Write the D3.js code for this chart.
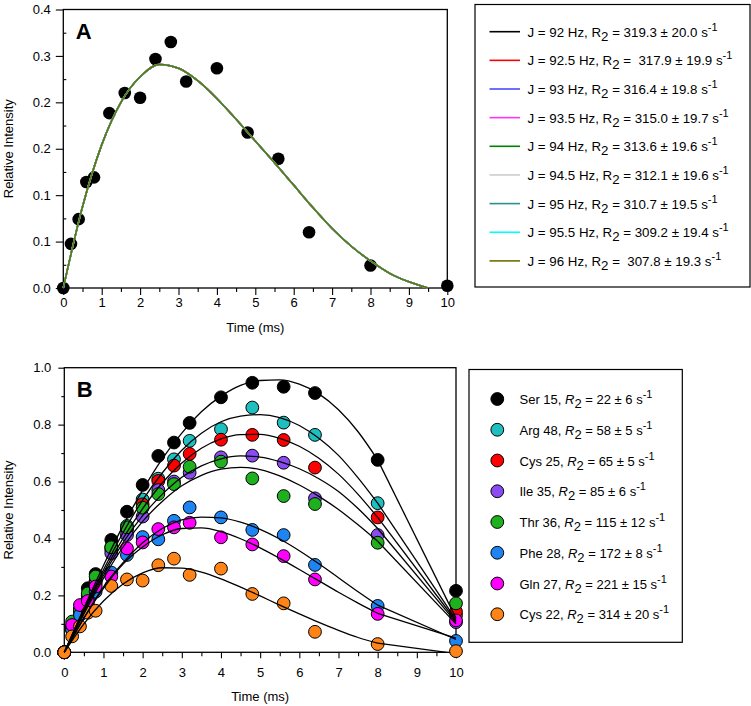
<!DOCTYPE html>
<html><head><meta charset="utf-8">
<script src="https://cdn.jsdelivr.net/npm/d3@7"></script>
<style>
body{margin:0;background:#fff}
svg text{font-family:Arial,"Liberation Sans",sans-serif;fill:#000}
</style>
</head><body>
<svg id="c" width="751" height="706"></svg>
<script>
// ---------- Panel A data ----------
const timesA = [0,0.2,0.4,0.6,0.8,1.2,1.6,2.0,2.4,2.8,3.2,4.0,4.8,5.6,6.4,8.0,10];
const intensA = [0,0.057,0.089,0.137,0.143,0.226,0.252,0.246,0.296,0.318,0.267,0.284,0.201,0.167,0.072,0.029,0.003];
const fitTimesA = [0,0.5,1,1.5,2,2.5,3,3.5,4,4.5,5,5.5,6,6.5,7,7.5,8,8.5,9,9.5];
const fitA = [0,0.105,0.185,0.240,0.273,0.289,0.284,0.268,0.245,0.218,0.190,0.162,0.133,0.104,0.077,0.054,0.035,0.019,0.008,0];
const jValues = ["92","92.5","93","93.5","94","94.5","95","95.5","96"];
const r2TextA = ["= 319.3 ± 20.0","=  317.9 ± 19.9","= 316.4 ± 19.8","= 315.0 ± 19.7","= 313.6 ± 19.6","= 312.1 ± 19.6","= 310.7 ± 19.5","= 309.2 ± 19.4","=  307.8 ± 19.3"];
const coloursA = ["#000000","#ff0000","#4b4bff","#ff33ff","#008000","#cccccc","#2e8f8f","#00ffff","#6f6f00"];
const yTicksA = [0,0.06,0.12,0.18,0.24,0.30,0.36];
const yTickLabelsA = ["0.0","0.1","0.1","0.2","0.2","0.3","0.4"];
const yMinorA = [0.03,0.09,0.15,0.21,0.27,0.33];

// ---------- Panel B data ----------
const timesB = [0,0.2,0.4,0.6,0.8,1.2,1.6,2.0,2.4,2.8,3.2,4.0,4.8,5.6,6.4,8.0,10];
const residues = ["Ser 15","Arg 48","Cys 25","Ile 35","Thr 36","Phe 28","Gln 27","Cys 22"];
const r2TextB = ["22 ± 6","58 ± 5","65 ± 5","85 ± 6","115 ± 12","172 ± 8","221 ± 15","314 ± 20"];
const coloursB = ["#000000","#1fbfbf","#ff0000","#8a4cf2","#1fb01f","#1e84f2","#ff00ff","#ff8418"];
const ser15 = [0,0.09,0.15,0.225,0.275,0.395,0.494,0.588,0.690,0.737,0.806,0.896,0.947,0.933,0.911,0.676,0.216];
const arg48 = [0,0.08,0.15,0.20,0.25,0.37,0.444,0.537,0.61,0.678,0.743,0.784,0.860,0.807,0.764,0.524,0.13];
const cys25 = [0,0.08,0.14,0.19,0.25,0.36,0.43,0.52,0.602,0.656,0.697,0.747,0.764,0.746,0.649,0.474,0.143];
const ile35 = [0,0.09,0.14,0.19,0.24,0.348,0.412,0.477,0.570,0.600,0.631,0.685,0.691,0.666,0.541,0.412,0.106];
const thr36 = [0,0.108,0.15,0.207,0.266,0.369,0.439,0.508,0.556,0.591,0.652,0.670,0.611,0.549,0.521,0.385,0.172];
const phe28 = [0,0.078,0.131,0.17,0.213,0.280,0.342,0.405,0.397,0.462,0.509,0.474,0.430,0.412,0.307,0.163,0.040];
const gln27 = [0,0.096,0.166,0.18,0.231,0.266,0.365,0.386,0.433,0.439,0.455,0.404,0.379,0.338,0.256,0.135,0.112];
const cys22 = [0,0.056,0.091,0.139,0.146,0.233,0.256,0.252,0.306,0.329,0.272,0.294,0.205,0.172,0.072,0.029,0.004];
const fitTimesB = [0,0.5,1,1.5,2,2.5,3,3.5,4,4.5,5,5.5,6,6.5,7,7.5,8];
const fitSer15 = [0,0.155,0.305,0.445,0.57,0.68,0.77,0.845,0.90,0.938,0.955,0.957,0.942,0.908,0.852,0.775,0.676];
const fitArg48 = [0,0.15,0.29,0.42,0.535,0.63,0.71,0.77,0.81,0.83,0.835,0.825,0.797,0.752,0.692,0.613,0.524];
const fitCys25 = [0,0.145,0.28,0.40,0.505,0.595,0.665,0.717,0.75,0.765,0.766,0.752,0.724,0.682,0.626,0.555,0.474];
const fitIle35 = [0,0.14,0.27,0.385,0.48,0.555,0.615,0.655,0.68,0.69,0.686,0.670,0.645,0.610,0.565,0.505,0.435];
const fitThr36 = [0,0.135,0.26,0.37,0.46,0.53,0.585,0.622,0.644,0.650,0.642,0.620,0.588,0.548,0.502,0.448,0.390];
const fitPhe28 = [0,0.12,0.23,0.315,0.385,0.435,0.465,0.475,0.472,0.457,0.432,0.398,0.357,0.311,0.262,0.213,0.166];
const fitGln27 = [0,0.12,0.225,0.31,0.37,0.413,0.435,0.437,0.424,0.399,0.367,0.330,0.291,0.251,0.211,0.173,0.137];
const fitCys22 = [0,0.10,0.18,0.24,0.279,0.297,0.296,0.282,0.258,0.229,0.198,0.166,0.135,0.105,0.077,0.052,0.032];
const fitEndTimeB = [10,10,10,10,10,10,10,9.76];
const fitEndB = [0.12,0.115,0.11,0.105,0.10,0.045,0.05,0];
const yTicksB = [0,0.2,0.4,0.6,0.8,1.0];
const yTickLabelsB = ["0.0","0.2","0.4","0.6","0.8","1.0"];
const yMinorB = [0.1,0.3,0.5,0.7,0.9];

const xTicks = [0,1,2,3,4,5,6,7,8,9,10];
const xTickLabels = ["0","1","2","3","4","5","6","7","8","9","10"];
const xMinor = [0.5,1.5,2.5,3.5,4.5,5.5,6.5,7.5,8.5,9.5];

const dataB = [ser15,arg48,cys25,ile35,thr36,phe28,gln27,cys22];
const fitsB = [fitSer15,fitArg48,fitCys25,fitIle35,fitThr36,fitPhe28,fitGln27,fitCys22];

const svg = d3.select("#c");

function axes(g, x, y, o) {
  const [x0,x1] = x.range(), [y0,y1] = y.range();
  g.append("g").attr("transform",`translate(0,${y0})`)
    .call(d3.axisBottom(x).tickValues(xTicks).tickSize(o.xMajor).tickPadding(o.xPad).tickFormat((d,i)=>xTickLabels[i]))
    .call(s=>{s.select(".domain").remove(); s.selectAll("text").attr("font-size",13).attr("font-family","Arial, Liberation Sans");});
  g.append("g").attr("transform",`translate(0,${y0})`)
    .call(d3.axisBottom(x).tickValues(xMinor).tickSize(o.xMinor).tickFormat(""))
    .call(s=>s.select(".domain").remove());
  g.append("g").attr("transform",`translate(${x0},0)`)
    .call(d3.axisLeft(y).tickValues(o.yTicks).tickSize(o.yMajor).tickPadding(o.yPad).tickFormat((d,i)=>o.yLabels[i]))
    .call(s=>{s.select(".domain").remove(); s.selectAll("text").attr("font-size",13).attr("font-family","Arial, Liberation Sans");});
  g.append("g").attr("transform",`translate(${x0},0)`)
    .call(d3.axisLeft(y).tickValues(o.yMinor).tickSize(o.yMinorSize).tickFormat(""))
    .call(s=>s.select(".domain").remove());
  g.selectAll(".tick line").attr("stroke","#000").attr("stroke-width",1.1);
  g.append("rect").attr("x",x0).attr("y",y1).attr("width",x1-x0).attr("height",y0-y1)
    .attr("fill","none").attr("stroke","#000").attr("stroke-width",1.3);
  g.append("text").attr("x",(x0+x1)/2).attr("y",o.titleY).attr("text-anchor","middle")
    .attr("font-size",13).text("Time (ms)");
  g.append("text").attr("transform",`translate(12.5,${(y0+y1)/2}) rotate(-90)`)
    .attr("text-anchor","middle").attr("font-size",13).text("Relative Intensity");
  g.append("text").attr("x",x0+12.5).attr("y",y1+29).attr("font-size",22).attr("font-weight","bold").text(o.letter);
}

// ---------- Panel A ----------
const xA = d3.scaleLinear().domain([0,10]).range([63.3,447.3]);
const yA = d3.scaleLinear().domain([0,0.36]).range([288,9.5]);
const gA = svg.append("g");
axes(gA, xA, yA, {xMajor:7,xMinor:4,xPad:3,yTicks:yTicksA,yLabels:yTickLabelsA,yMinor:yMinorA,yMajor:7.5,yPad:5,yMinorSize:-3,titleY:331.5,letter:"A"});
gA.append("g").selectAll("circle").data(timesA).join("circle")
  .attr("cx",d=>xA(d)).attr("cy",(d,i)=>yA(intensA[i])).attr("r",6.3).attr("fill","#000");
const lineA = d3.line().x((d,i)=>xA(fitTimesA[i])).y(d=>yA(d)).curve(d3.curveMonotoneX);
coloursA.forEach(c=>{
  gA.append("path").attr("d",lineA(fitA)).attr("fill","none").attr("stroke",c).attr("stroke-width",1.5);
});
// legend A
const lgA = svg.append("g");
lgA.append("rect").attr("x",475).attr("y",4.5).attr("width",275).attr("height",282.5)
  .attr("fill","#fff").attr("stroke","#000").attr("stroke-width",1.2);
jValues.forEach((j,i)=>{
  const yy = 31.7 + i*28.65;
  lgA.append("line").attr("x1",489.5).attr("x2",520).attr("y1",yy).attr("y2",yy)
    .attr("stroke",coloursA[i]).attr("stroke-width",1.6);
  const t = lgA.append("text").attr("x",527.5).attr("y",yy+5).attr("font-size",13.3).style("white-space","pre");
  t.append("tspan").text(`J = ${j} Hz, R`);
  t.append("tspan").attr("dy",4).text("2");
  t.append("tspan").attr("dy",-4).text(` ${r2TextA[i]} s`);
  t.append("tspan").attr("dy",-6).attr("font-size",11).text("-1");
});

// ---------- Panel B ----------
const xB = d3.scaleLinear().domain([0,10]).range([64.3,456]);
const yB = d3.scaleLinear().domain([0,1]).range([652.3,367.7]);
const gB = svg.append("g");
axes(gB, xB, yB, {xMajor:6,xMinor:4,xPad:9,yTicks:yTicksB,yLabels:yTickLabelsB,yMinor:yMinorB,yMajor:6,yPad:7,yMinorSize:3,titleY:701,letter:"B"});
dataB.forEach((arr,k)=>{
  gB.append("g").selectAll("circle").data(timesB).join("circle")
    .attr("cx",d=>xB(d)).attr("cy",(d,i)=>yB(arr[i])).attr("r",6.4)
    .attr("fill",coloursB[k]).attr("stroke","#000").attr("stroke-width",1);
});
const lineB = d3.line().x((d,i)=>xB(fitTimesB[i])).y(d=>yB(d)).curve(d3.curveMonotoneX);
fitsB.forEach((f,k)=>{
  gB.append("path").attr("d",lineB(f)).attr("fill","none").attr("stroke","#000").attr("stroke-width",1.3);
  gB.append("line").attr("x1",xB(fitTimesB[fitTimesB.length-1])).attr("y1",yB(f[f.length-1]))
    .attr("x2",xB(fitEndTimeB[k])).attr("y2",yB(fitEndB[k])).attr("stroke","#000").attr("stroke-width",1.3);
});
// legend B
const lgB = svg.append("g");
lgB.append("rect").attr("x",469).attr("y",369.5).attr("width",213.3).attr("height",272.8)
  .attr("fill","#fff").attr("stroke","#000").attr("stroke-width",1.2);
residues.forEach((r,i)=>{
  const yy = 399 + i*30.75;
  lgB.append("circle").attr("cx",497.3).attr("cy",yy).attr("r",6.4)
    .attr("fill",coloursB[i]).attr("stroke","#000").attr("stroke-width",1);
  const t = lgB.append("text").attr("x",519.5).attr("y",yy+5).attr("font-size",13).style("white-space","pre");
  t.append("tspan").text(`${r}, `);
  t.append("tspan").attr("font-style","italic").text("R");
  t.append("tspan").attr("dy",4).text("2");
  t.append("tspan").attr("dy",-4).text(` = ${r2TextB[i]} s`);
  t.append("tspan").attr("dy",-6).attr("font-size",11).text("-1");
});
</script>
</body></html>
